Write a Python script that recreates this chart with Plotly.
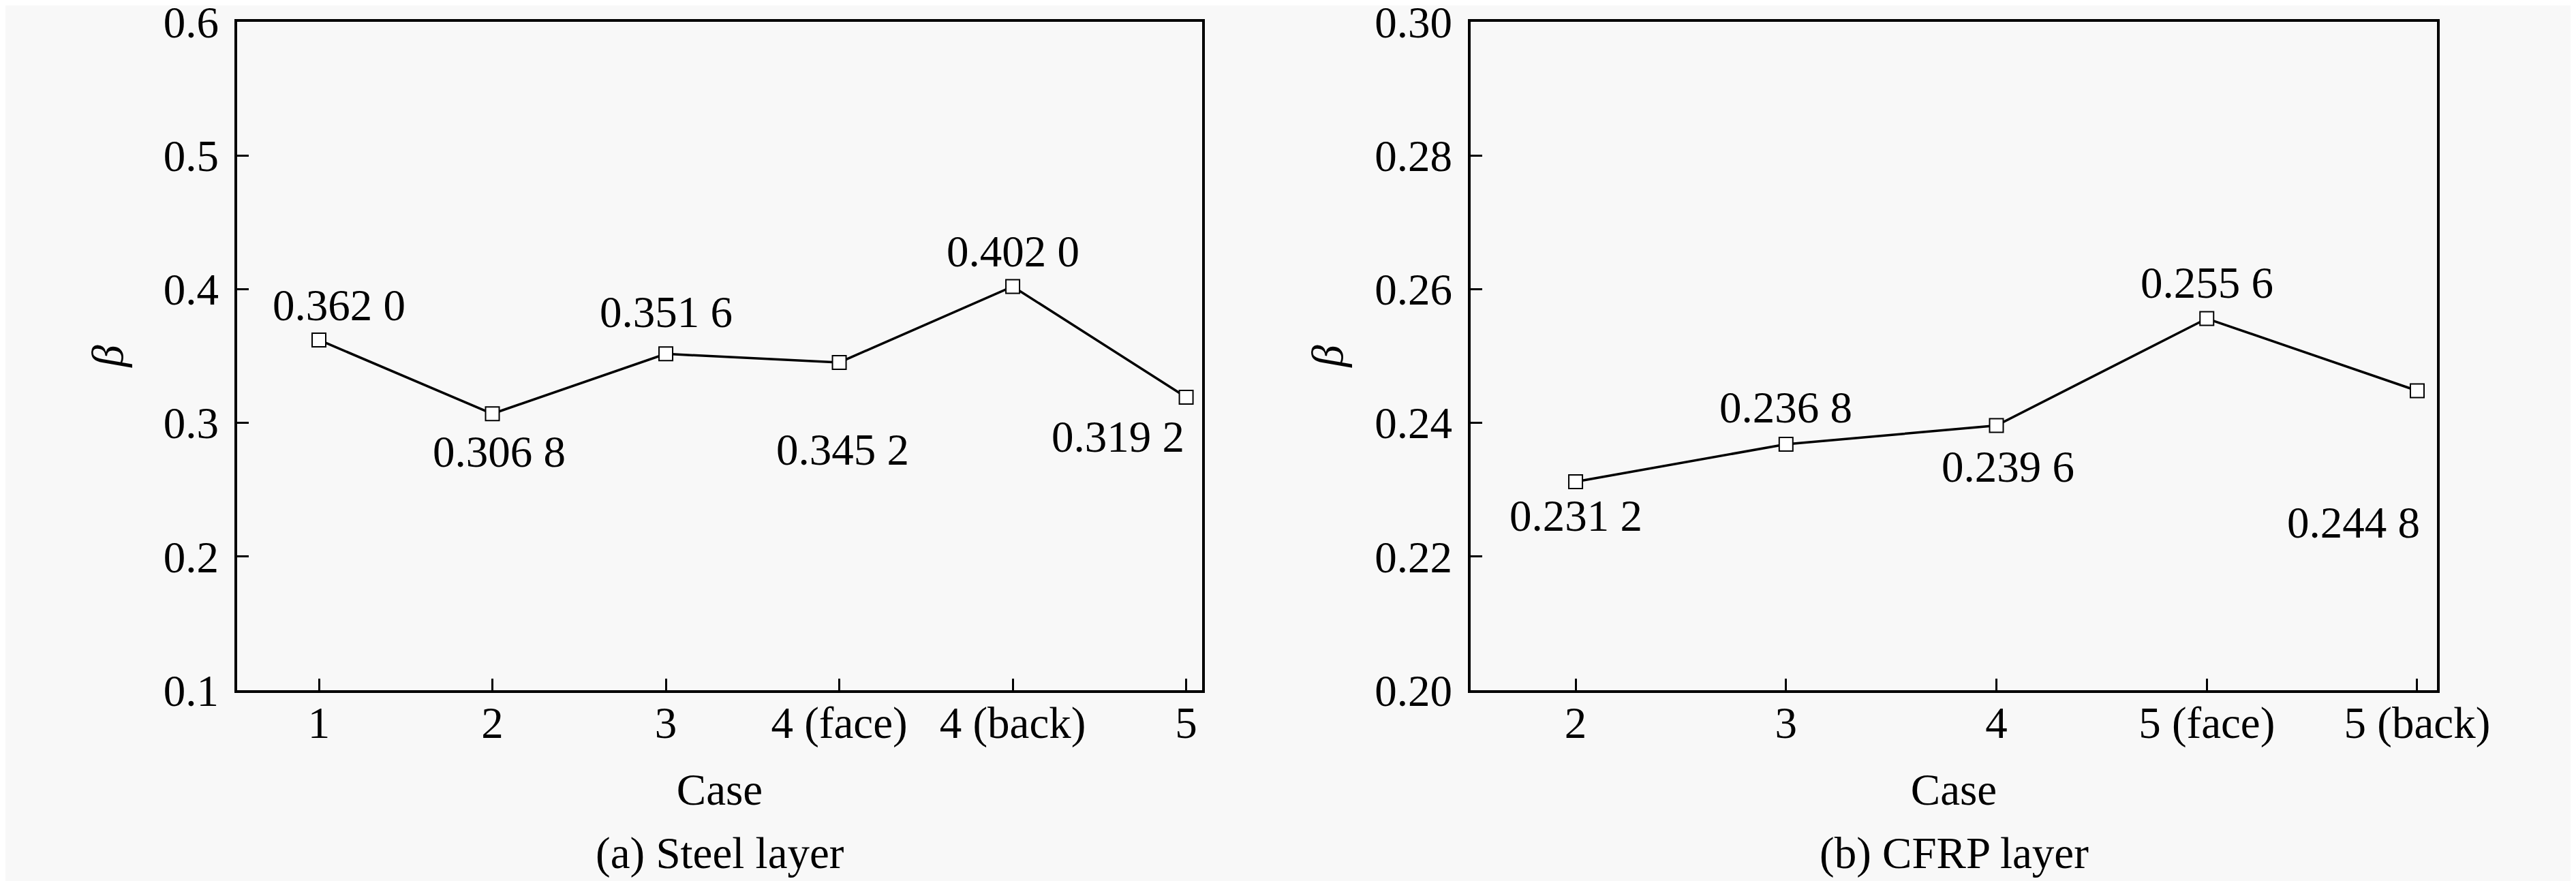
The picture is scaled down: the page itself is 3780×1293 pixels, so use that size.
import plotly.graph_objects as go

# ---- data ----
steel_cases = ["1", "2", "3", "4 (face)", "4 (back)", "5"]
steel_beta = [0.3620, 0.3068, 0.3516, 0.3452, 0.4020, 0.3192]

cfrp_cases = ["2", "3", "4", "5 (face)", "5 (back)"]
cfrp_beta = [0.2312, 0.2368, 0.2396, 0.2556, 0.2448]

steel_yticks = [0.1, 0.2, 0.3, 0.4, 0.5, 0.6]
cfrp_yticks = [0.20, 0.22, 0.24, 0.26, 0.28, 0.30]

# label offsets (px, dx right, dy down) -- layout only
steel_label_off = [(29, -51), (10, 56), (0, -61), (5, 128), (0, -51), (-100, 58)]
cfrp_label_off = [(0, 50), (0, -54), (17, 60), (0, -53), (-93, 193)]

FONT = "Liberation Serif"
FS = 65
BG = "#f8f8f8"
W, H = 3780, 1293
OFF = 8  # page body margin compensation (px)


def fmt(v):
    s = f"{v:.4f}"
    return s[:-1] + " " + s[-1]


def px_x(p):
    return (p - OFF) / W


def px_y(p):
    return (H - (p - OFF)) / H


fig = go.Figure()

marker_style = dict(symbol="square", size=20, color="white", line=dict(color="black", width=2))

fig.add_trace(go.Scatter(
    x=list(range(len(steel_cases))), y=steel_beta, mode="lines+markers",
    line=dict(color="black", width=3.5), marker=marker_style,
    xaxis="x", yaxis="y", showlegend=False, cliponaxis=False))

fig.add_trace(go.Scatter(
    x=list(range(len(cfrp_cases))), y=cfrp_beta, mode="lines+markers",
    line=dict(color="black", width=3.5), marker=marker_style,
    xaxis="x2", yaxis="y2", showlegend=False, cliponaxis=False))

annotations = []
for i, (v, (dx, dy)) in enumerate(zip(steel_beta, steel_label_off)):
    annotations.append(dict(x=i, y=v, xref="x", yref="y", text=fmt(v), showarrow=False,
                            xshift=dx, yshift=-dy, font=dict(family=FONT, size=FS, color="black")))
for i, (v, (dx, dy)) in enumerate(zip(cfrp_beta, cfrp_label_off)):
    annotations.append(dict(x=i, y=v, xref="x2", yref="y2", text=fmt(v), showarrow=False,
                            xshift=dx, yshift=-dy, font=dict(family=FONT, size=FS, color="black")))

xdom1 = [px_x(348), px_x(1764)]
xdom2 = [px_x(2158), px_x(3576)]
ydom = [px_y(1013), px_y(32)]

# captions
annotations.append(dict(x=sum(xdom1) / 2, y=px_y(1252), xref="paper", yref="paper",
                        xanchor="center", yanchor="middle",
                        text="(a) Steel layer", showarrow=False,
                        font=dict(family=FONT, size=FS, color="black")))
annotations.append(dict(x=sum(xdom2) / 2, y=px_y(1252), xref="paper", yref="paper",
                        xanchor="center", yanchor="middle",
                        text="(b) CFRP layer", showarrow=False,
                        font=dict(family=FONT, size=FS, color="black")))

axis_common = dict(showline=True, linecolor="black", linewidth=4, mirror=True,
                   ticks="inside", ticklen=17, tickwidth=3, tickcolor="black",
                   showgrid=False, zeroline=False, automargin=False,
                   ticklabeloverflow="allow",
                   tickfont=dict(family=FONT, size=FS, color="black"))

fig.update_layout(
    width=W, height=H,
    margin=dict(l=0, r=0, t=0, b=0, pad=0),
    paper_bgcolor=BG, plot_bgcolor=BG,
    font=dict(family=FONT, size=FS, color="black"),
    xaxis=dict(domain=xdom1, range=[-0.4715, 5.092],
               tickvals=list(range(len(steel_cases))), ticktext=steel_cases,
               ticklabelstandoff=-12,
               title=dict(text="Case", standoff=40, font=dict(family=FONT, size=FS)),
               anchor="y", **axis_common),
    yaxis=dict(domain=ydom, range=[0.1, 0.6], tickvals=steel_yticks,
               tickformat=".1f", ticklabelstandoff=10,
               title=dict(text="<i>β</i>", standoff=39, font=dict(family=FONT, size=FS)),
               anchor="x", **axis_common),
    xaxis2=dict(domain=xdom2, range=[-0.499, 4.094],
                tickvals=list(range(len(cfrp_cases))), ticktext=cfrp_cases,
                ticklabelstandoff=-12,
                title=dict(text="Case", standoff=40, font=dict(family=FONT, size=FS)),
                anchor="y2", **axis_common),
    yaxis2=dict(domain=ydom, range=[0.20, 0.30], tickvals=cfrp_yticks,
                tickformat=".2f", ticklabelstandoff=10,
                title=dict(text="<i>β</i>", standoff=27, font=dict(family=FONT, size=FS)),
                anchor="x2", **axis_common),
    annotations=annotations,
)

fig.write_html("out.html")
